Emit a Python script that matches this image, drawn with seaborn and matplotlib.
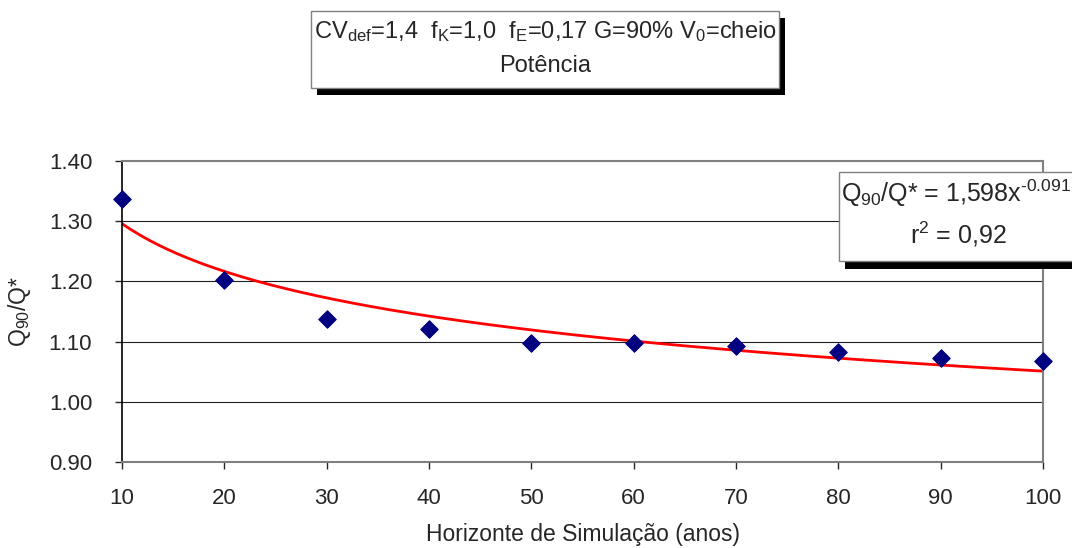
import seaborn as sns
import pandas as pd
import matplotlib.pyplot as plt
import numpy as np
from matplotlib.patches import Rectangle

# horizonte de simulação x Q90/Q*
anos = [10, 20, 30, 40, 50, 60, 70, 80, 90, 100]
q90_q = [1.337, 1.202, 1.138, 1.121, 1.098, 1.098, 1.093, 1.083, 1.072, 1.068]
# ajuste de potência (linha de tendência do Excel)
coef_a = 1.598
coef_b = -0.091
y_ticks = [0.90, 1.00, 1.10, 1.20, 1.30, 1.40]

sns.set_style("white")
plt.rcParams['font.family'] = ['Liberation Sans', 'DejaVu Sans']
plt.rcParams['mathtext.fontset'] = 'custom'
plt.rcParams['mathtext.rm'] = 'Liberation Sans'
plt.rcParams['mathtext.default'] = 'regular'

df = pd.DataFrame({'anos': anos, 'q': q90_q})
x_fit = np.linspace(min(anos), max(anos), 200)
df_fit = pd.DataFrame({'anos': x_fit, 'q': coef_a * x_fit ** coef_b})

fig = plt.figure(figsize=(10.72, 5.48), dpi=100)
ax = fig.add_axes([122 / 1072, 1 - 462 / 548, (1043 - 122) / 1072, (462 - 161) / 548])

for yt in y_ticks[1:-1]:
    ax.axhline(yt, color='#202020', lw=0.8, zorder=1)

sns.lineplot(data=df_fit, x='anos', y='q', color='#ff0000', lw=2.0, ax=ax, zorder=2)
sns.scatterplot(data=df, x='anos', y='q', marker='D', s=80, color='#000080',
                edgecolor='#000080', ax=ax, zorder=3, clip_on=False)

ax.set_xlim(10, 100)
ax.set_ylim(0.90, 1.40)
ax.set_xticks(anos)
ax.set_yticks(y_ticks)
ax.set_yticklabels(['{0:.2f}'.format(v) for v in y_ticks])
ax.tick_params(axis='y', labelsize=16, direction='out', length=5, width=1, pad=16.5, left=True)
ax.tick_params(axis='x', labelsize=16, direction='out', length=5, width=1, pad=13.5, bottom=True)

for side in ['top', 'right', 'bottom']:
    ax.spines[side].set_color('#808080')
    ax.spines[side].set_linewidth(1.5)
ax.spines['left'].set_color('black')
ax.spines['left'].set_linewidth(1.2)

ax.set_xlabel('Horizonte de Simulação (anos)', fontsize=16.5, labelpad=10)
ax.set_ylabel('Q$_{90}$/Q*', fontsize=16.5, labelpad=11)

# caixa do título
W, H = 1072, 548
fig.add_artist(Rectangle((317 / W, 1 - 95 / H), 468 / W, 77 / H, transform=fig.transFigure,
                         facecolor='black', edgecolor='none', zorder=5))
fig.add_artist(Rectangle((311 / W, 1 - 88 / H), 468 / W, 77 / H, transform=fig.transFigure,
                         facecolor='white', edgecolor='#808080', lw=1, zorder=6))
fig.text(545 / W, 1 - 32 / H, 'CV$_{def}$=1,4  f$_K$=1,0  f$_E$=0,17 G=90% V$_0$=cheio',
         ha='center', va='center', fontsize=17, zorder=7)
fig.text(545 / W, 1 - 66 / H, 'Potência', ha='center', va='center', fontsize=17, zorder=7)

# caixa da equação
fig.add_artist(Rectangle((845 / W, 1 - 269 / H), 300 / W, 89 / H, transform=fig.transFigure,
                         facecolor='black', edgecolor='none', zorder=5))
fig.add_artist(Rectangle((839 / W, 1 - 261 / H), 300 / W, 89 / H, transform=fig.transFigure,
                         facecolor='white', edgecolor='#808080', lw=1, zorder=6))
fig.text(841 / W, 1 - 193 / H, r'Q$_{90}$/Q* = 1,598x$^{\text{-}0.091}$',
         ha='left', va='center', fontsize=18, zorder=7)
fig.text(958 / W, 1 - 234 / H, 'r$^2$ = 0,92', ha='center', va='center', fontsize=18, zorder=7)

plt.savefig('out.png', dpi=100)
plt.close()
